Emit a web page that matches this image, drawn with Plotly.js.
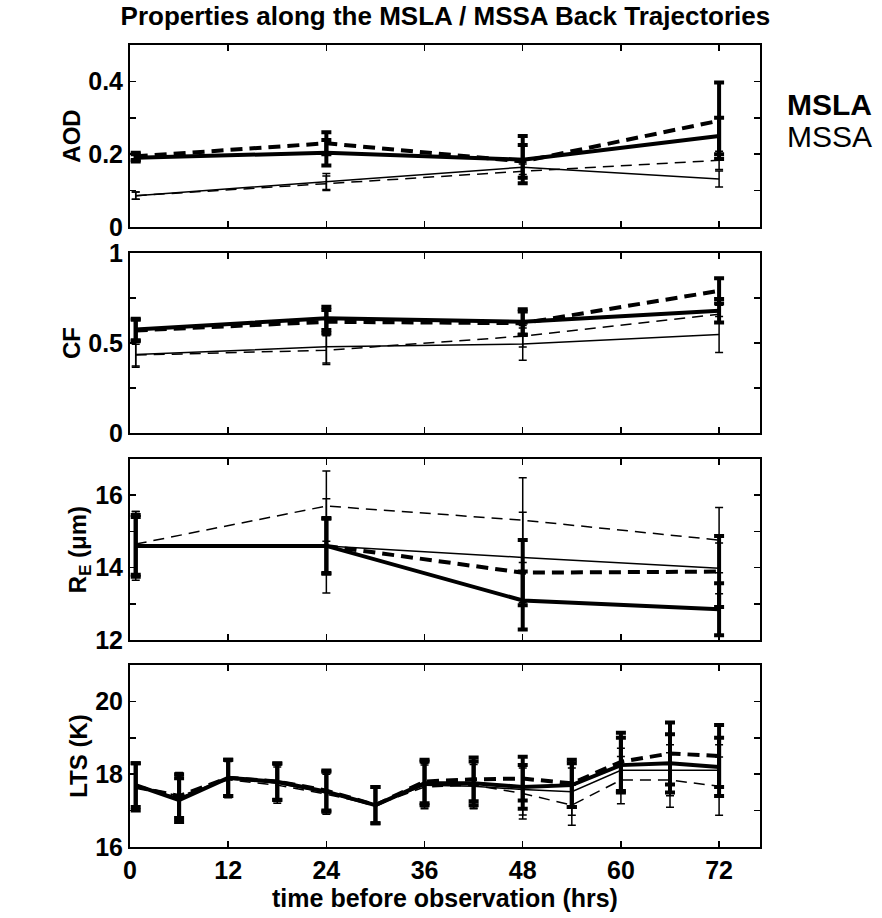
<!DOCTYPE html>
<html>
<head>
<meta charset="utf-8">
<script src="https://cdn.plot.ly/plotly-3.0.1.min.js"></script>
<style>html,body{margin:0;padding:0;background:#fff;}#chart{width:882px;height:918px;}</style>
</head>
<body>
<div id="chart"></div>
<script>
// ---- data ----
var hours4 = [0.7, 24, 48, 72];
var hoursLTS = [0.7, 6, 12, 18, 24, 30, 36, 42, 48, 54, 60, 66, 72];
var xTicks = [0, 12, 24, 36, 48, 60, 72];

// AOD
var aodMslaSolid = [0.19, 0.204, 0.185, 0.25];
var aodMslaSolidErr = [0.01, 0.035, 0.065, 0.05];
var aodMslaDash = [0.194, 0.23, 0.18, 0.292];
var aodMslaDashErr = [0.01, 0.03, 0.045, 0.105];
var aodMssaSolid = [0.086, 0.125, 0.164, 0.132];
var aodMssaSolidErr = [0.01, 0.022, 0.02, 0.022];
var aodMssaDash = [0.086, 0.12, 0.153, 0.183];
var aodMssaDashErr = [0.01, 0.02, 0.02, 0.025];

// CF
var cfMslaSolid = [0.575, 0.637, 0.618, 0.679];
var cfMslaSolidErr = [0.06, 0.065, 0.07, 0.065];
var cfMslaDash = [0.57, 0.618, 0.61, 0.79];
var cfMslaDashErr = [0.06, 0.065, 0.065, 0.07];
var cfMssaSolid = [0.436, 0.479, 0.494, 0.548];
var cfMssaSolidErr = [0.07, 0.09, 0.09, 0.1];
var cfMssaDash = [0.433, 0.46, 0.538, 0.66];
var cfMssaDashErr = [0.06, 0.08, 0.06, 0.05];

// R_E
var reMslaSolid = [14.6, 14.6, 13.09, 12.85];
var reMslaSolidErr = [0.85, 0.77, 0.8, 0.72];
var reMslaDash = [14.6, 14.6, 13.86, 13.89];
var reMslaDashErr = [0.8, 0.75, 0.9, 0.98];
var reMssaSolid = [14.6, 14.6, 14.28, 13.98];
var reMssaSolidErr = [0.95, 1.3, 1.25, 0.7];
var reMssaDash = [14.65, 15.7, 15.31, 14.76];
var reMssaDashErr = [0.9, 0.97, 1.17, 0.9];

// LTS
var ltsMslaSolid = [17.7, 17.29, 17.9, 17.79, 17.52, 17.15, 17.75, 17.75, 17.65, 17.7, 18.25, 18.3, 18.2];
var ltsMslaSolidErr = [0.6, 0.6, 0.5, 0.5, 0.55, 0.5, 0.6, 0.6, 0.6, 0.6, 0.75, 0.8, 0.8];
var ltsMslaDash = [17.65, 17.4, 17.9, 17.8, 17.55, 17.15, 17.8, 17.86, 17.88, 17.75, 18.34, 18.57, 18.5];
var ltsMslaDashErr = [0.65, 0.6, 0.5, 0.5, 0.55, 0.5, 0.6, 0.6, 0.6, 0.65, 0.8, 0.85, 0.85];
var ltsMssaSolid = [17.7, 17.35, 17.9, 17.75, 17.5, 17.15, 17.7, 17.67, 17.58, 17.52, 18.11, 18.11, 18.11];
var ltsMssaSolidErr = [0.6, 0.6, 0.5, 0.5, 0.55, 0.5, 0.6, 0.6, 0.7, 0.65, 0.6, 0.7, 0.7];
var ltsMssaDash = [17.7, 17.4, 17.85, 17.7, 17.45, 17.15, 17.65, 17.7, 17.47, 17.15, 17.84, 17.84, 17.67];
var ltsMssaDashErr = [0.6, 0.65, 0.5, 0.5, 0.55, 0.5, 0.6, 0.65, 0.7, 0.55, 0.65, 0.75, 0.8];

var titleText = 'Properties along the MSLA / MSSA Back Trajectories';
var xTitle = 'time before observation (hrs)';
var yTitles = ['AOD', 'CF', 'R<sub>E</sub> (\u03bcm)', 'LTS (K)'];
var legendLabels = ['MSLA', 'MSSA'];

// ---- build traces ----
var FONT = 'Liberation Sans, Arial, Helvetica, sans-serif';
function tr(x, y, err, thick, dashed, ax) {
  var w = thick ? 4 : 1.5;
  return {
    x: x, y: y, type: 'scatter', mode: 'lines', showlegend: false,
    xaxis: 'x' + ax, yaxis: 'y' + ax,
    line: {color: '#000', width: w, dash: dashed ? (thick ? '12px,7px' : '11px,7px') : 'solid'},
    error_y: {type: 'data', array: err, visible: true, color: '#000', thickness: w, width: thick ? 5 : 4},
    hoverinfo: 'skip'
  };
}
var traces = [
  tr(hours4, aodMssaDash, aodMssaDashErr, false, true, ''),
  tr(hours4, aodMssaSolid, aodMssaSolidErr, false, false, ''),
  tr(hours4, aodMslaDash, aodMslaDashErr, true, true, ''),
  tr(hours4, aodMslaSolid, aodMslaSolidErr, true, false, ''),
  tr(hours4, cfMssaDash, cfMssaDashErr, false, true, '2'),
  tr(hours4, cfMssaSolid, cfMssaSolidErr, false, false, '2'),
  tr(hours4, cfMslaDash, cfMslaDashErr, true, true, '2'),
  tr(hours4, cfMslaSolid, cfMslaSolidErr, true, false, '2'),
  tr(hours4, reMssaDash, reMssaDashErr, false, true, '3'),
  tr(hours4, reMssaSolid, reMssaSolidErr, false, false, '3'),
  tr(hours4, reMslaDash, reMslaDashErr, true, true, '3'),
  tr(hours4, reMslaSolid, reMslaSolidErr, true, false, '3'),
  tr(hoursLTS, ltsMssaDash, ltsMssaDashErr, false, true, '4'),
  tr(hoursLTS, ltsMssaSolid, ltsMssaSolidErr, false, false, '4'),
  tr(hoursLTS, ltsMslaDash, ltsMslaDashErr, true, true, '4'),
  tr(hoursLTS, ltsMslaSolid, ltsMslaSolidErr, true, false, '4')
];

function xax(showLabels, anchor) {
  return {
    range: [0, 77], tickvals: xTicks, ticktext: xTicks.map(String), showticklabels: showLabels,
    ticks: 'inside', ticklen: 6, tickwidth: 1.5, tickcolor: '#000',
    showline: true, linewidth: 2, linecolor: '#000', mirror: 'allticks',
    showgrid: false, zeroline: false, anchor: anchor,
    tickfont: {family: FONT, size: 25, color: '#000', weight: 'bold'}
  };
}
function yax(range, vals, minorStep, domain, title, anchor) {
  return {
    range: range, domain: domain, tickvals: vals, ticktext: vals.map(String),
    ticks: 'inside', ticklen: 6, tickwidth: 1.5, tickcolor: '#000',
    minor: {ticks: 'inside', dtick: minorStep, tick0: range[0], ticklen: 6, tickwidth: 1.5, tickcolor: '#000', showgrid: false},
    showline: true, linewidth: 2, linecolor: '#000', mirror: 'allticks',
    showgrid: false, zeroline: false, anchor: anchor,
    tickfont: {family: FONT, size: 25, color: '#000', weight: 'bold'},
    title: {text: '<b>' + title + '</b>', font: {family: FONT, size: 24, color: '#000'}, standoff: 1}
  };
}

var layout = {
  width: 882, height: 918,
  margin: {l: 130, r: 122, t: 45, b: 71},
  paper_bgcolor: '#fff', plot_bgcolor: '#fff',
  title: {text: '<b>' + titleText + '</b>', font: {family: FONT, size: 26, color: '#000'}, x: 0.505, xanchor: 'center', y: 0.983, yanchor: 'middle'},
  xaxis: xax(false, 'y'),
  xaxis2: Object.assign(xax(false, 'y2'), {matches: 'x'}),
  xaxis3: Object.assign(xax(false, 'y3'), {matches: 'x'}),
  xaxis4: Object.assign(xax(true, 'y4'), {matches: 'x', title: {text: '<b>' + xTitle + '</b>', font: {family: FONT, size: 25, color: '#000'}, standoff: 3}}),
  yaxis: yax([0, 0.5], [0, 0.2, 0.4], 0.1, [0.7731, 1.0], yTitles[0], 'x'),
  yaxis2: yax([0, 1], [0, 0.5, 1], 0.25, [0.5162, 0.7406], yTitles[1], 'x2'),
  yaxis3: yax([12, 17], [12, 14, 16], 1, [0.2581, 0.4838], yTitles[2], 'x3'),
  yaxis4: yax([16, 21], [16, 18, 20], 1, [0, 0.2269], yTitles[3], 'x4'),
  annotations: [
    {text: '<b>' + legendLabels[0] + '</b>', xref: 'paper', yref: 'paper', x: 1.04, y: 0.9258, xanchor: 'left', yanchor: 'middle', showarrow: false, font: {family: FONT, size: 30, color: '#000'}},
    {text: legendLabels[1], xref: 'paper', yref: 'paper', x: 1.04, y: 0.8865, xanchor: 'left', yanchor: 'middle', showarrow: false, font: {family: FONT, size: 30, color: '#000'}}
  ]
};

Plotly.newPlot('chart', traces, layout, {displayModeBar: false, staticPlot: true});
</script>
</body>
</html>
